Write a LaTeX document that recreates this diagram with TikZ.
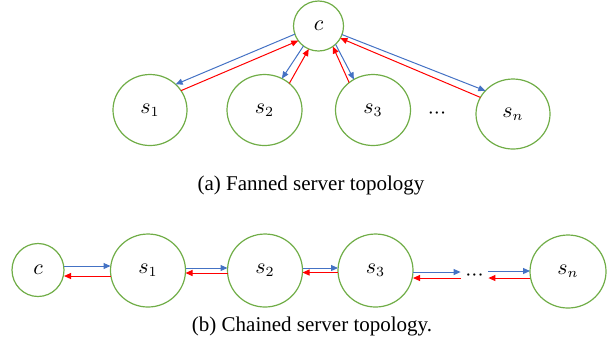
\documentclass[tikz,border=0pt]{standalone}
\usepackage{fontspec}
\setmainfont{Liberation Serif}
\usetikzlibrary{arrows.meta,shapes.geometric}
\definecolor{nodegreen}{HTML}{70AD47}
\definecolor{arrblue}{HTML}{4472C4}
\definecolor{arrred}{HTML}{FF0000}
\newcommand{\tightdots}{$\mathord{\cdotp}\mathord{\cdotp}\mathord{\cdotp}$}
\begin{document}
\begin{tikzpicture}[x=0.5pt,y=-0.5pt,
  srv/.style={draw=nodegreen,line width=0.6pt,ellipse,inner sep=0pt,outer sep=0pt,font=\fontsize{10.5}{12}\selectfont},
  bluearr/.style={draw=arrblue,line width=0.5pt,-{Triangle[length=3.5pt,width=3pt]},arrblue},
  redarr/.style={draw=arrred,line width=0.5pt,-{Triangle[length=3.5pt,width=3pt]},arrred},
  captext/.style={font=\fontsize{10.5}{12}\selectfont,inner sep=0pt},
  dotsn/.style={inner sep=0pt,minimum width=13.5pt,font=\fontsize{10.5}{12}\selectfont}]
\useasboundingbox (0,0) rectangle (613,350);
% ---------- (a) fanned ----------
\node[srv,minimum width=25pt,minimum height=25pt] (c) at (318.5,26) {$c$};
\node[srv,minimum width=37pt,minimum height=35.5pt] (s1) at (150,110) {$s_1$};
\node[srv,minimum width=37.5pt,minimum height=35.5pt] (s2) at (264.5,110) {$s_2$};
\node[srv,minimum width=37.5pt,minimum height=35.5pt] (s3) at (373,110) {$s_3$};
\node[srv,minimum width=37pt,minimum height=35pt] (sn) at (513,114) {$s_n$};
\node[dotsn] (dA) at (437,114) {\tightdots};
\draw[bluearr] (c.199.6) -- (s1.45);
\draw[redarr] (s1.32) -- (c.216.5);
\draw[bluearr] (c.233.7) -- (s2.61);
\draw[redarr] (s2.47) -- (c.247.8);
\draw[redarr] (s3.131) -- (c.305);
\draw[bluearr] (c.313.7) -- (s3.122);
\draw[bluearr] (c.340.6) -- (sn.140);
\draw[redarr] (sn.153) -- (c.331);
\node[captext] (capA) at (311,185) {(a) Fanned server topology};
% ---------- (b) chained ----------
\node[srv,minimum width=26pt,minimum height=26.5pt] (c2) at (38,270) {$c$};
\node[srv,minimum width=37.5pt,minimum height=36.5pt] (t1) at (148,270.5) {$s_1$};
\node[srv,minimum width=37.5pt,minimum height=36.5pt] (t2) at (265,270.5) {$s_2$};
\node[srv,minimum width=37.5pt,minimum height=36.5pt] (t3) at (375.5,270.5) {$s_3$};
\node[srv,minimum width=38pt,minimum height=36.5pt] (tn) at (568,271.5) {$s_n$};
\node[dotsn] (dB) at (474.5,276) {\tightdots};
\draw[bluearr] ([yshift=2pt]c2.east) -- ([yshift=2pt]c2.east -| t1.west);
\draw[redarr] ([yshift=-2.75pt]t1.west) -- ([yshift=-2.75pt]t1.west -| c2.east);
\draw[bluearr] ([yshift=1.25pt]t1.east) -- ([yshift=1.25pt]t1.east -| t2.west);
\draw[redarr] ([yshift=-1.25pt]t2.west) -- ([yshift=-1.25pt]t2.west -| t1.east);
\draw[bluearr] ([yshift=1.25pt]t2.east) -- ([yshift=1.25pt]t2.east -| t3.west);
\draw[redarr] ([yshift=-1pt]t3.west) -- ([yshift=-1pt]t3.west -| t2.east);
\draw[bluearr] ([yshift=-0.75pt]t3.east) -- ([yshift=-0.75pt]t3.east -| dB.west);
\draw[redarr] ([yshift=-3.75pt]t3.east -| dB.west) -- ([yshift=-3.75pt]t3.east);
\draw[bluearr] ([yshift=0.25pt]tn.west -| dB.east) -- ([yshift=0.25pt]tn.west);
\draw[redarr] ([yshift=-3.25pt]tn.west) -- ([yshift=-3.25pt]tn.west -| dB.east);
\node[captext] (capB) at (312,326) {(b) Chained server topology.};
\end{tikzpicture}
\end{document}
